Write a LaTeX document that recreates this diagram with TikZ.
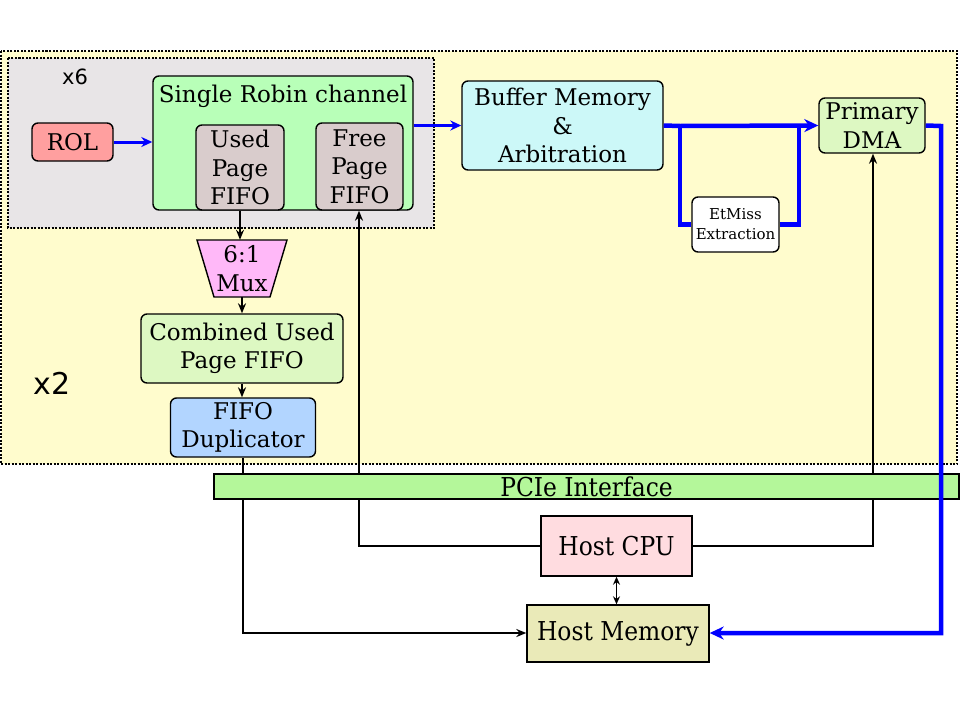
\documentclass[tikz,border=0pt]{standalone}
\usepackage{fontspec}
\usepackage{graphicx}
\setmainfont{DejaVu Serif}
\newfontfamily\labfont{DejaVu Sans}
\usetikzlibrary{arrows.meta,positioning}
\definecolor{yelbg}{HTML}{FFFCCD}
\definecolor{greybg}{HTML}{E8E5E7}
\definecolor{rolc}{HTML}{FF9F9F}
\definecolor{robinc}{HTML}{B8FFB8}
\definecolor{fifoc}{HTML}{D9CCCC}
\definecolor{bufc}{HTML}{CCF8F8}
\definecolor{dmac}{HTML}{DDF8C2}
\definecolor{muxc}{HTML}{FFB8F8}
\definecolor{dupc}{HTML}{B2D5FF}
\definecolor{pciec}{HTML}{B4F79A}
\definecolor{cpuc}{HTML}{FFDCE0}
\definecolor{memc}{HTML}{EAEAB8}
\definecolor{pureblue}{HTML}{0000FF}
\newcommand{\condtxt}[1]{\scalebox{0.9}[1]{#1}}
\tikzset{
  blk/.style={draw=black, line width=1.4pt, rounded corners=6pt, align=center, inner sep=0pt, font=\fontsize{23}{28.5}\selectfont},
  sq/.style={draw=black, line width=1.4pt, align=center, inner sep=0pt, font=\fontsize{26}{30}\selectfont},
  thin/.style={draw=black, line width=1.6pt},
  tarr/.style={thin, -{Stealth[length=10pt,width=8pt]}},
  bthick/.style={draw=pureblue, line width=4.5pt},
  barr/.style={draw=pureblue, line width=3pt, -{Stealth[length=11pt,width=10pt]}},
  dotbox/.style={draw=black, line width=1.6pt, dash pattern=on 2pt off 1.5pt},
}
\begin{document}
\begin{tikzpicture}[x=1pt,y=-1pt]
\useasboundingbox (0,0) rectangle (960,720);
\fill[white] (0,0) rectangle (960,720);
% containers
\draw[dotbox, fill=yelbg] (1,51) rectangle (957,464);
\draw[dotbox, fill=greybg] (8,58) rectangle (434,228);
\node[font=\labfont\fontsize{21}{24}\selectfont] (x6) at (75,77) {x6};
\node[font=\labfont\fontsize{30}{32}\selectfont] (x2) at (52,383) {x2};
% nodes
\node[blk, fill=rolc, minimum width=81pt, minimum height=38pt] (rol) at (72.5,142) {ROL};
\node[blk, fill=robinc, minimum width=260pt, minimum height=134pt] (robin) at (283,143) {};
\node[font=\fontsize{23}{28}\selectfont, anchor=north] (robint) at (283,81) {Single Robin channel};
\node[blk, fill=fifoc, minimum width=88pt, minimum height=85pt] (used) at (240,167.5) {Used\\Page\\FIFO};
\node[blk, fill=fifoc, minimum width=87pt, minimum height=87pt] (free) at (359.5,166.5) {Free\\Page\\FIFO};
\node[blk, fill=bufc, minimum width=201pt, minimum height=89pt] (buf) at (562.5,125.5) {Buffer Memory\\\&\\Arbitration};
\node[blk, fill=dmac, minimum width=106pt, minimum height=55pt] (dma) at (872,125.5) {Primary\\DMA};
\node[blk, fill=white, minimum width=87pt, minimum height=55pt, font=\fontsize{15}{20}\selectfont] (etm) at (735.5,224.5) {EtMiss\\Extraction};
\fill[muxc, draw=black, line width=1.4pt] (197,240) -- (287,240) -- (270,297) -- (214,297) -- cycle;
\node[align=center, inner sep=0pt, minimum width=90pt, minimum height=57pt, font=\fontsize{23}{28.5}\selectfont] (mux) at (242,268.5) {6:1\\Mux};
\node[blk, fill=dmac, minimum width=202pt, minimum height=69pt] (comb) at (242,348.5) {Combined Used\\Page FIFO};
\node[blk, fill=dupc, minimum width=145pt, minimum height=59pt] (dup) at (243,427.5) {FIFO\\Duplicator};
\node[sq, fill=cpuc, minimum width=151pt, minimum height=60pt] (cpu) at (616.5,546) {\condtxt{Host CPU}};
\node[sq, fill=memc, minimum width=182pt, minimum height=57pt] (mem) at (618,633.5) {\condtxt{Host Memory}};
% coordinates
\coordinate (freex) at (359,546);
\coordinate (dmax) at (873,546);
\coordinate (dupb) at (243,633);
\coordinate (br1) at (680,126);
\coordinate (br2) at (799,126);
\coordinate (dmaout) at (941,126);
\coordinate (dmadown) at (941,633);
% connectors (behind PCIe)
\draw[tarr] (cpu.west) -- (freex) -- (free.south -| freex);
\draw[tarr] (cpu.east) -- (dmax) -- (dma.south -| dmax);
\draw[tarr] (dup.south) -- (dupb) -- (mem.west |- dupb);
\draw[thin, {Stealth[length=8pt,width=7pt]}-{Stealth[length=8pt,width=7pt]}] (cpu.south) -- (mem.north -| cpu.south);
\draw[tarr] (used.south) -- (mux.north -| used.south);
\draw[tarr] (mux.south) -- (comb.north);
\draw[tarr] (comb.south) -- (dup.north -| comb.south);
% PCIe
\node[sq, fill=pciec, minimum width=745pt, minimum height=25pt, line width=1.6pt] (pcie) at (586.5,486.5) {\condtxt{PCIe Interface}};
% blue paths
\draw[barr] (rol.east) -- (robin.west |- rol.east);
\draw[barr] (robin.east |- buf.west) -- (buf.west);
\draw[bthick] (buf.east) -- (br1);
\draw[bthick, line join=miter] (br1) |- (etm.west);
\draw[bthick, line join=miter] (etm.east) -| (br2);
\draw[bthick, -{Stealth[length=14pt,width=13pt]}] (br1) -- (dma.west);
\draw[bthick, line join=miter, -{Stealth[length=14pt,width=13pt]}] (dma.east) -- (dmaout) -- (dmadown) -- (mem.east |- dmadown);
\end{tikzpicture}
\end{document}
